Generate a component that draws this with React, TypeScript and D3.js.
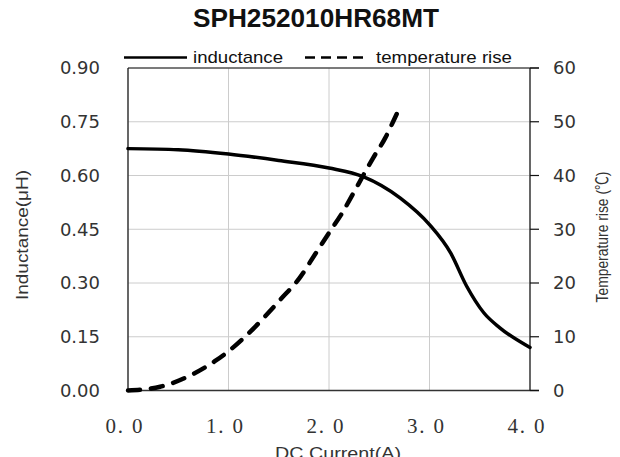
import React from "react";
import * as d3 from "d3";

const titleText = "SPH252010HR68MT";
const xTicks = [0, 1, 2, 3, 4];
const xTickLabels = ["0. 0", "1. 0", "2. 0", "3. 0", "4. 0"];
const leftTicks = [0, 0.15, 0.3, 0.45, 0.6, 0.75, 0.9];
const leftTickLabels = ["0.00", "0.15", "0.30", "0.45", "0.60", "0.75", "0.90"];
const rightTicks = [0, 10, 20, 30, 40, 50, 60];

const currentL = [0, 0.5, 1.0, 1.5, 2.0, 2.34, 2.71, 3.0, 3.21, 3.37, 3.54, 3.7, 4.0];
const inductance = [0.675, 0.672, 0.66, 0.642, 0.621, 0.597, 0.537, 0.463, 0.384, 0.291, 0.217, 0.175, 0.12];

const currentT = [0, 0.16, 0.32, 0.62, 0.86, 1.0, 1.22, 1.52, 1.71, 1.86, 2.01, 2.13, 2.245, 2.34, 2.44, 2.56, 2.64, 2.7];
const temperature = [0, 0.2, 0.7, 2.8, 5.4, 7.3, 11.0, 17.0, 21.0, 25.3, 29.6, 33.0, 36.8, 40.0, 43.3, 47.0, 50.1, 52.5];

const W = 620;
const H = 457;
const plot = { left: 128, right: 530, top: 68, bottom: 390.5 };

export default function App() {
  const x = d3.scaleLinear().domain([0, 4]).range([plot.left, plot.right]);
  const yL = d3.scaleLinear().domain([0, 0.9]).range([plot.bottom, plot.top]);
  const yT = d3.scaleLinear().domain([0, 60]).range([plot.bottom, plot.top]);

  const lineL = d3
    .line<number>()
    .x((_, i) => x(currentL[i]))
    .y((d) => yL(d))
    .curve(d3.curveMonotoneX);
  const lineT = d3
    .line<number>()
    .x((_, i) => x(currentT[i]))
    .y((d) => yT(d))
    .curve(d3.curveMonotoneX);

  const labelFont = "'DejaVu Sans', sans-serif";
  const textFont = "'Liberation Sans', 'Noto Sans CJK SC', sans-serif";

  return (
    <svg
      width={W}
      height={H}
      style={{ position: "fixed", left: 0, top: 0, background: "#fff" }}
    >
      <rect x={0} y={0} width={W} height={H} fill="#fff" />
      {/* title */}
      <text
        x={316}
        y={27}
        textAnchor="middle"
        fontFamily={textFont}
        fontWeight="bold"
        fontSize={25}
        textLength={246}
        lengthAdjust="spacingAndGlyphs"
        fill="#111"
      >
        {titleText}
      </text>

      {/* legend */}
      <line x1={124} x2={187} y1={57.5} y2={57.5} stroke="#000" strokeWidth={2.5} />
      <text
        x={193}
        y={63}
        fontFamily={textFont}
        fontSize={17}
        textLength={90}
        lengthAdjust="spacingAndGlyphs"
        fill="#111"
      >
        inductance
      </text>
      <line
        x1={305}
        x2={363}
        y1={57.5}
        y2={57.5}
        stroke="#000"
        strokeWidth={2.5}
        strokeDasharray="10,6"
      />
      <text
        x={376}
        y={63}
        fontFamily={textFont}
        fontSize={17}
        textLength={136}
        lengthAdjust="spacingAndGlyphs"
        fill="#111"
      >
        temperature rise
      </text>

      {/* gridlines */}
      {leftTicks.map((t) => (
        <line
          key={"h" + t}
          x1={plot.left}
          x2={plot.right}
          y1={yL(t)}
          y2={yL(t)}
          stroke="#cccccc"
          strokeWidth={1}
        />
      ))}
      {xTicks.map((t) => (
        <line
          key={"v" + t}
          x1={x(t)}
          x2={x(t)}
          y1={plot.top}
          y2={plot.bottom}
          stroke="#cccccc"
          strokeWidth={1}
        />
      ))}

      {/* axes frame */}
      <line x1={plot.left} x2={539} y1={plot.top} y2={plot.top} stroke="#111" strokeWidth={1.2} />
      <line x1={plot.left} x2={539} y1={plot.bottom} y2={plot.bottom} stroke="#333" strokeWidth={1.5} />
      <line x1={plot.left} x2={plot.left} y1={plot.top} y2={plot.bottom} stroke="#111" strokeWidth={1.2} />
      <line x1={plot.right} x2={plot.right} y1={plot.top} y2={plot.bottom} stroke="#111" strokeWidth={1.2} />
      {rightTicks.map((t) => (
        <line
          key={"rt" + t}
          x1={plot.right}
          x2={539}
          y1={yT(t)}
          y2={yT(t)}
          stroke="#111"
          strokeWidth={1.2}
        />
      ))}

      {/* left tick labels */}
      {leftTicks.map((t, i) => (
        <text
          key={"ll" + t}
          x={100}
          y={yL(t)}
          dy="0.36em"
          textAnchor="end"
          fontFamily={labelFont}
          fontSize={18}
          fill="#333"
        >
          {leftTickLabels[i]}
        </text>
      ))}
      {/* right tick labels */}
      {rightTicks.map((t) => (
        <text
          key={"rl" + t}
          x={553}
          y={yT(t)}
          dy="0.36em"
          textAnchor="start"
          fontFamily={labelFont}
          fontSize={18}
          fill="#333"
        >
          {t}
        </text>
      ))}
      {/* x tick labels */}
      {xTicks.map((t, i) => (
        <text
          key={"xl" + t}
          x={x(t) - 4}
          y={433}
          textAnchor="middle"
          fontFamily="'Liberation Serif', serif"
          fontSize={21}
          textLength={37}
          lengthAdjust="spacing"
          fill="#333"
        >
          {xTickLabels[i]}
        </text>
      ))}

      {/* axis titles */}
      <text
        transform="translate(28,235) rotate(-90)"
        textAnchor="middle"
        fontFamily={textFont}
        fontSize={17}
        textLength={130}
        lengthAdjust="spacingAndGlyphs"
        fill="#333"
      >
        Inductance(μH)
      </text>
      <text
        transform="translate(608,237) rotate(-90)"
        textAnchor="middle"
        fontFamily={textFont}
        fontSize={17}
        textLength={131}
        lengthAdjust="spacingAndGlyphs"
        fill="#333"
      >
        Temperature rise (℃)
      </text>
      <text
        x={338}
        y={459}
        textAnchor="middle"
        fontFamily={textFont}
        fontSize={17}
        textLength={126}
        lengthAdjust="spacingAndGlyphs"
        fill="#333"
      >
        DC Current(A)
      </text>

      {/* series */}
      <path
        d={lineT(temperature) || ""}
        fill="none"
        stroke="#000"
        strokeWidth={4.5}
        strokeDasharray="12,11"
        strokeLinecap="round"
      />
      <path
        d={lineL(inductance) || ""}
        fill="none"
        stroke="#000"
        strokeWidth={3.5}
        strokeLinecap="round"
      />
    </svg>
  );
}
